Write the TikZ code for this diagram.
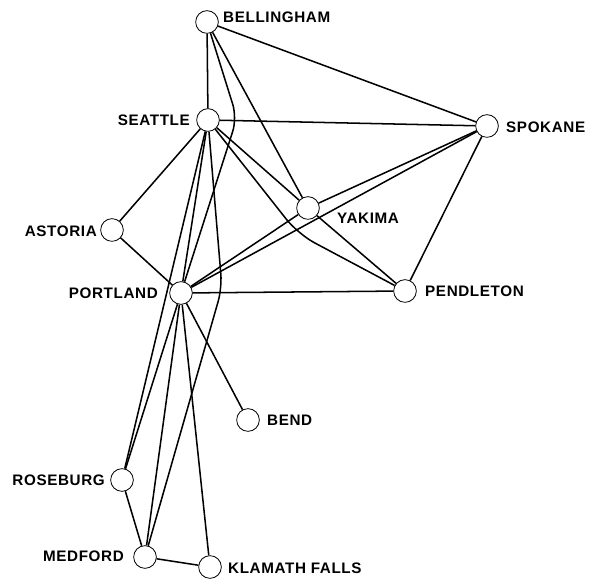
\documentclass[tikz,border=0pt]{standalone}
\usepackage{fontspec}
\newfontfamily\mapfont[LetterSpace=4]{Liberation Sans}

\begin{document}
\begin{tikzpicture}[x=0.3mm, y=-0.3mm,
  town/.style={circle, draw, line width=0.7pt, fill=white, inner sep=0pt, minimum size=6.8mm},
  townname/.style={font=\mapfont\bfseries\fontsize{13}{15}\selectfont, inner sep=0pt},
  route/.style={line width=1.3pt}]
\useasboundingbox (0,0) rectangle (591,579);
% towns
\node[town] (bellingham) at (207,22) {};
\node[town] (seattle) at (208,120) {};
\node[town] (spokane) at (487,126) {};
\node[town] (yakima) at (308,208) {};
\node[town] (astoria) at (112,230) {};
\node[town] (portland) at (181,293) {};
\node[town] (pendleton) at (405,291) {};
\node[town] (bend) at (248,420) {};
\node[town] (roseburg) at (122,480) {};
\node[town] (medford) at (145,557) {};
\node[town] (klamath) at (210,567) {};
% names
\node[townname, anchor=west] (bellingham-t) at (223,17) {BELLINGHAM};
\node[townname, anchor=east] (seattle-t) at (190,120) {SEATTLE};
\node[townname, anchor=west] (spokane-t) at (506,127) {SPOKANE};
\node[townname, anchor=west] (yakima-t) at (337,218) {YAKIMA};
\node[townname, anchor=east] (astoria-t) at (97,231) {ASTORIA};
\node[townname, anchor=east] (portland-t) at (158,293) {PORTLAND};
\node[townname, anchor=west] (pendleton-t) at (425,291) {PENDLETON};
\node[townname, anchor=west] (bend-t) at (267,420) {BEND};
\node[townname, anchor=east] (roseburg-t) at (105,480) {ROSEBURG};
\node[townname, anchor=east] (medford-t) at (124,556) {MEDFORD};
\node[townname, anchor=west] (klamath-t) at (228,568) {KLAMATH FALLS};
% bends of the routes that go round a town
\coordinate (bp-bend) at (237,118);
\coordinate (sm-bend) at (222,288);
\coordinate (sp-bend) at (298,234);
% routes
\draw[route] (bellingham) -- (seattle);
\draw[route] (bellingham) -- (spokane);
\draw[route] (bellingham) -- (yakima);
\draw[route, rounded corners=12pt] (bellingham) -- (bp-bend) -- (portland);
\draw[route] (seattle) -- (spokane);
\draw[route] (seattle) -- (yakima);
\draw[route, rounded corners=16pt] (seattle) -- (sp-bend) -- (pendleton);
\draw[route] (seattle) -- (astoria);
\draw[route] (seattle) -- (portland);
\draw[route] (seattle) -- (roseburg);
\draw[route, rounded corners=12pt] (seattle) -- (sm-bend) -- (medford);
\draw[route] (spokane) -- (yakima);
\draw[route] (spokane) -- (portland);
\draw[route] (spokane) -- (pendleton);
\draw[route] (yakima) -- (portland);
\draw[route] (yakima) -- (pendleton);
\draw[route] (astoria) -- (portland);
\draw[route] (portland) -- (pendleton);
\draw[route] (portland) -- (bend);
\draw[route] (portland) -- (roseburg);
\draw[route] (portland) -- (medford);
\draw[route] (portland) -- (klamath);
\draw[route] (roseburg) -- (medford);
\draw[route] (medford) -- (klamath);
\end{tikzpicture}
\end{document}
